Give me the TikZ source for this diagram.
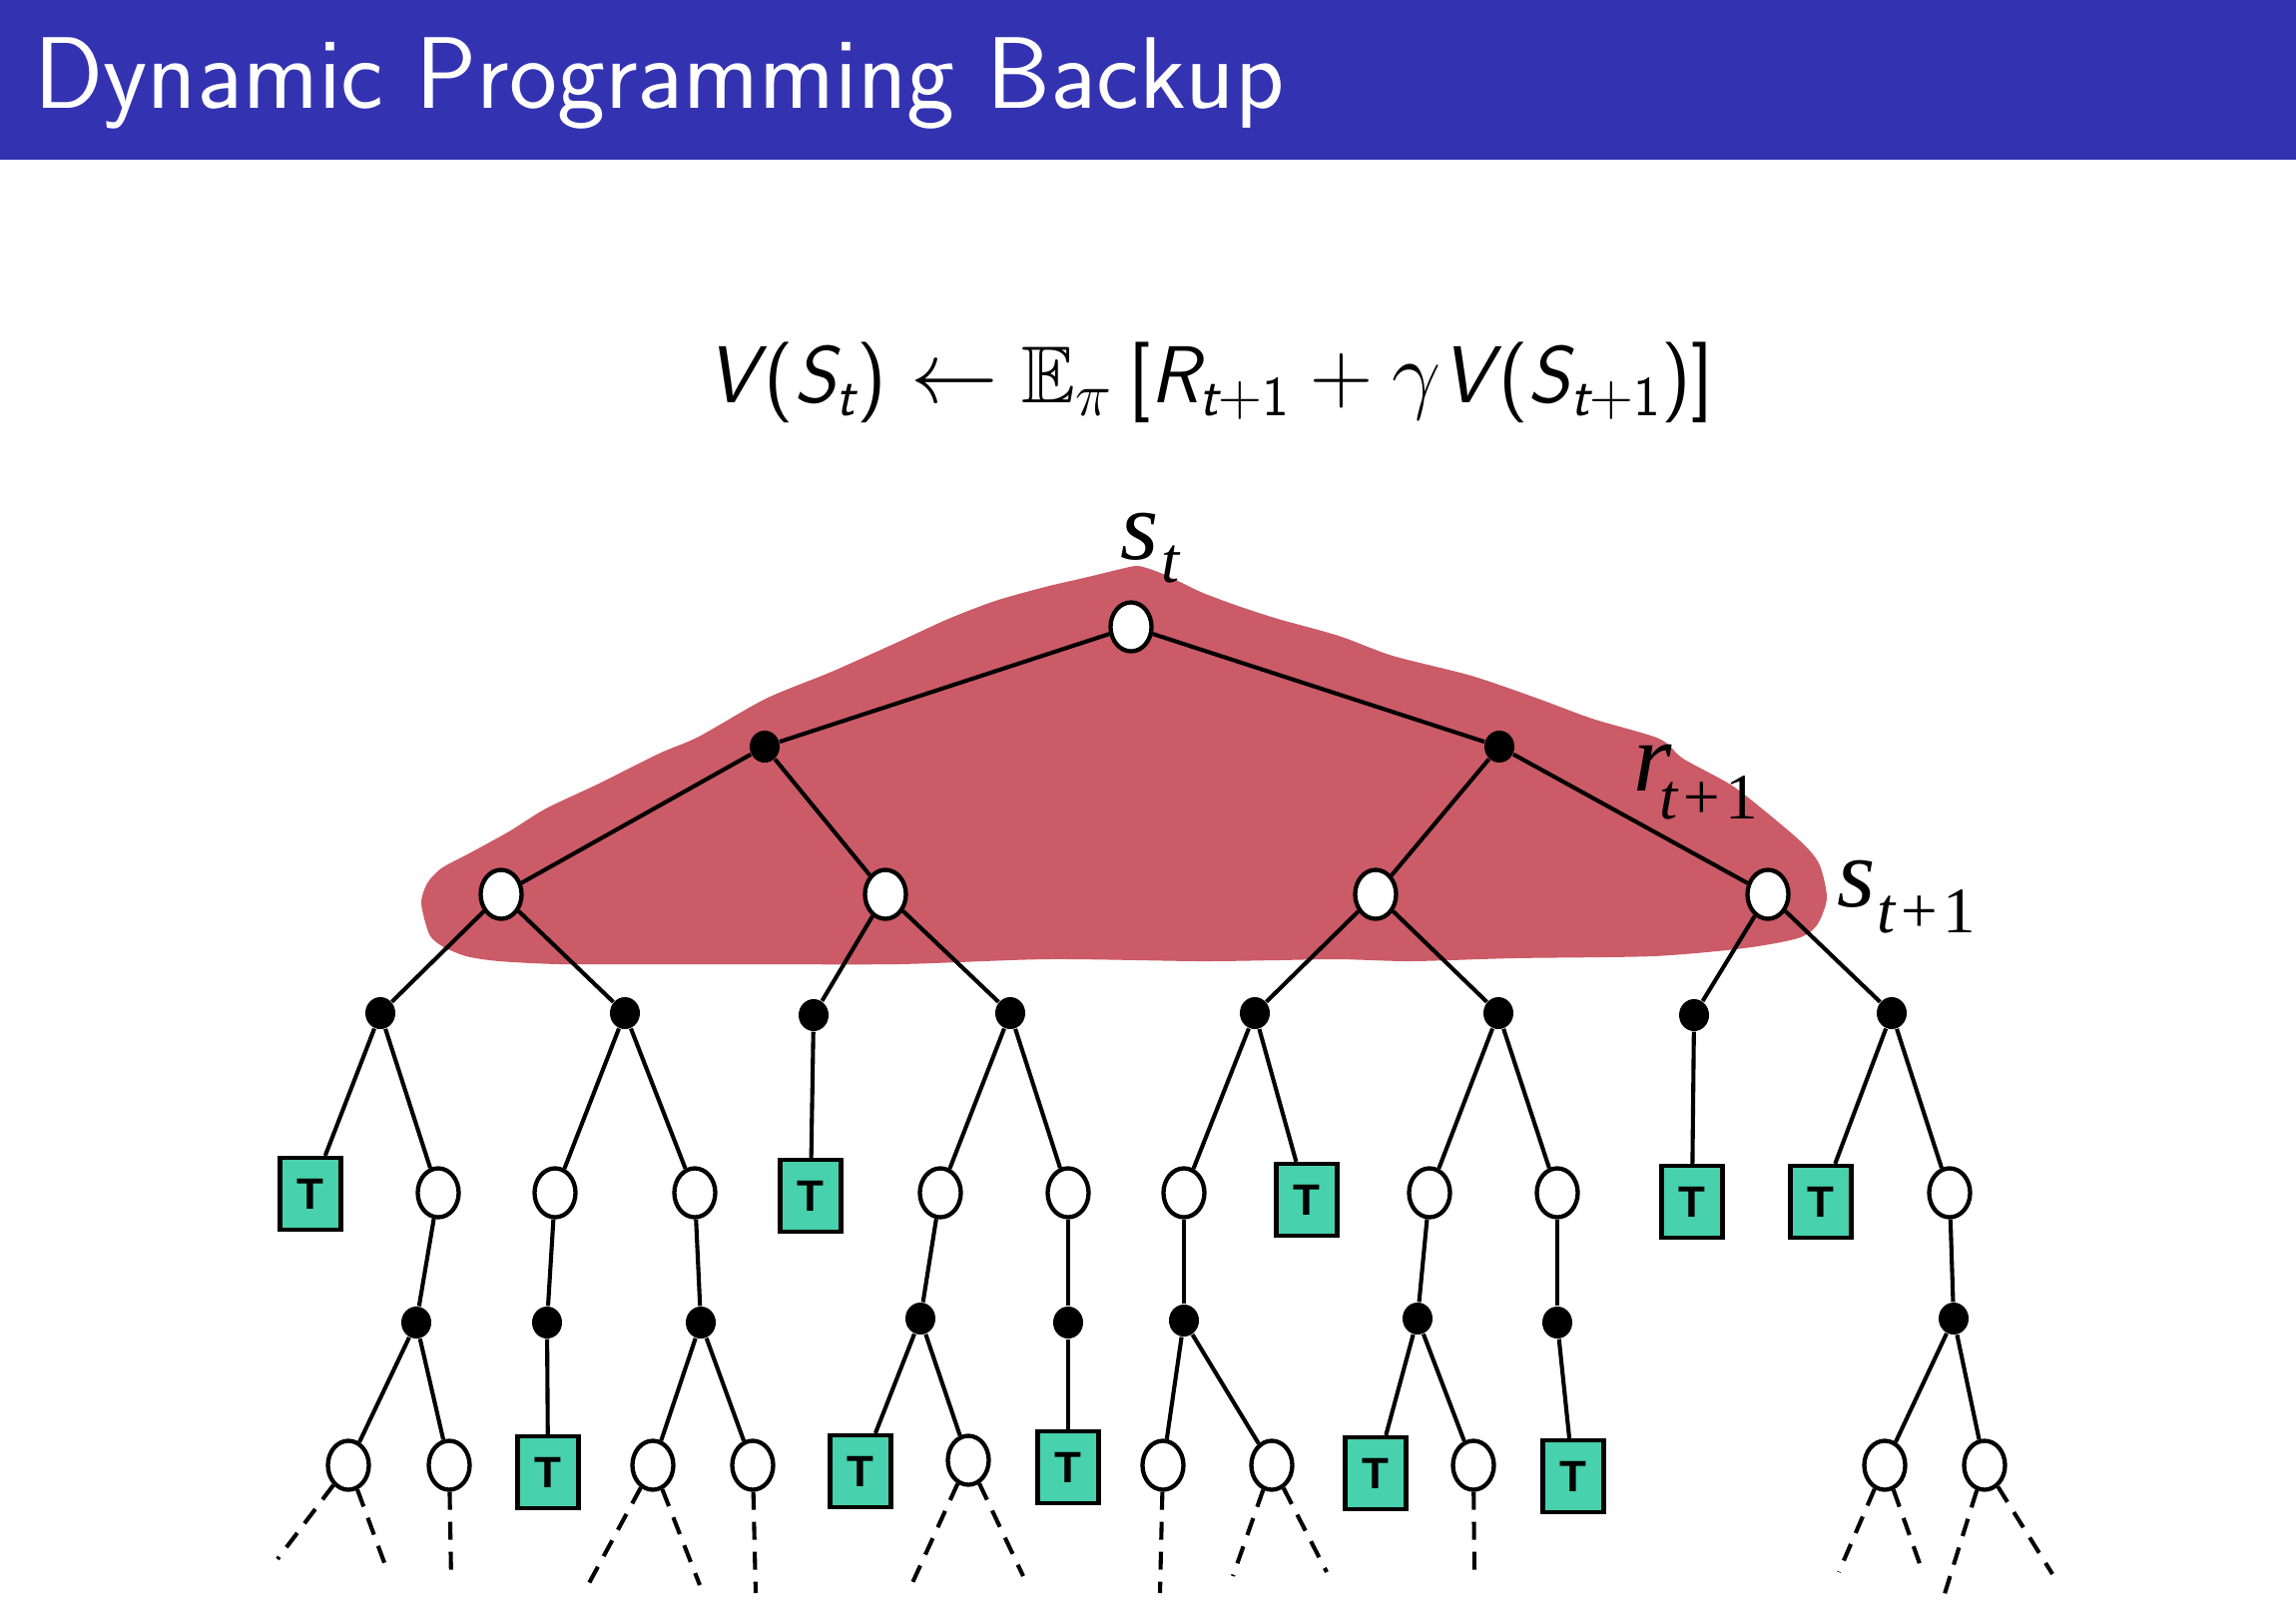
\documentclass[tikz,border=0pt]{standalone}
\usepackage{amsmath,amssymb}
\usepackage{fontspec}
\usetikzlibrary{shapes.geometric}
\newfontfamily\figserif{Liberation Serif}
\newfontfamily\figsans{Liberation Sans}
\newcommand{\sfit}[1]{\text{\sffamily\itshape #1}}
\newcommand{\sfup}[1]{\text{\sffamily\upshape #1}}
\definecolor{barblue}{rgb}{0.2,0.2,0.7}
\definecolor{blobred}{RGB}{203,91,103}
\definecolor{termgreen}{RGB}{71,209,173}
\begin{document}
\begin{tikzpicture}[x=0.01cm,y=-0.01cm,
  st/.style={ellipse,draw,fill=white,line width=0.043cm,minimum width=0.41cm,minimum height=0.49cm,inner sep=0pt},
  act/.style={ellipse,fill=black,minimum width=0.30cm,minimum height=0.32cm,inner sep=0pt},
  term/.style={rectangle,draw,fill=termgreen,line width=0.042cm,minimum width=0.61cm,minimum height=0.72cm,inner sep=0pt,font=\figsans\bfseries\fontsize{12.5}{12.5}\selectfont},
  edge/.style={line width=0.041cm},
  cont/.style={edge,dash pattern=on 0.18cm off 0.12cm},
  lbl/.style={inner sep=0pt,font=\figserif\itshape\fontsize{28}{28}\selectfont},
  sub/.style={inner sep=0pt,font=\figserif\fontsize{18.5}{18.5}\selectfont}]
\useasboundingbox (0,0) rectangle (2300,1606);

% title bar
\fill[barblue] (0,0) rectangle (2300,160);
\node[anchor=base west,inner sep=0pt,text=white,font=\sffamily\fontsize{29}{29}\selectfont] (title) at (34,108) {Dynamic Programming Backup};

% backup equation
\node[anchor=base,inner sep=0pt,font=\fontsize{23}{23}\selectfont] (eq) at (1212,403)
  {$\sfit{V}\kern2pt\sfup{(}\sfit{S}_{\sfit{t}}\sfup{)} \leftarrow \mathbb{E}_{\pi}\,\sfup{[}\sfit{R}_{\sfit{t}+\sfup{1}} + \gamma\sfit{V}\kern2pt\sfup{(}\sfit{S}_{\sfit{t}+\sfup{1}}\sfup{)}\sfup{]}$};

% highlighted one-step region
\fill[blobred] plot[smooth cycle,tension=0.45] coordinates {
  (422,905) (428,885) (442,870) (470,855) (510,833) (547,810) (600,785) (660,755)
  (700,738) (767,700) (833,673) (900,643) (950,620) (997,602) (1047,588) (1090,578)
  (1123,570) (1140,567) (1160,573) (1182,583) (1205,594) (1240,607) (1280,620)
  (1341,637) (1395,657) (1474,677) (1541,700) (1595,720) (1662,740) (1686,760)
  (1735,787) (1777,820) (1808,847) (1823,867) (1830,900) (1820,927) (1801,940)
  (1747,950) (1656,958) (1517,960) (1414,963) (1341,961) (1280,962) (1200,963)
  (1050,961) (900,966) (750,966) (650,966) (560,966) (500,963) (467,958) (443,948) (430,936)};

% level 0 and 1
\node[st] (s0) at (1133,628) {};
\node[act] (a1) at (766,748) {};
\node[act] (a2) at (1502,748) {};
% level 2
\node[st] (s1) at (502,896) {};
\node[st] (s2) at (887,896) {};
\node[st] (s3) at (1378,896) {};
\node[st] (s4) at (1771,896) {};
% level 3
\node[act] (b1) at (381,1015) {};
\node[act] (b2) at (626,1015) {};
\node[act] (b3) at (815,1017) {};
\node[act] (b4) at (1012,1015) {};
\node[act] (b5) at (1257,1015) {};
\node[act] (b6) at (1501,1015) {};
\node[act] (b7) at (1697,1017) {};
\node[act] (b8) at (1895,1015) {};
% level 4
\node[term] (t1) at (311,1196) {T};
\node[st] (c1) at (439,1195) {};
\node[st] (c2) at (556,1195) {};
\node[st] (c3) at (696,1195) {};
\node[term] (t2) at (812,1198) {T};
\node[st] (c4) at (942,1195) {};
\node[st] (c5) at (1070,1195) {};
\node[st] (c6) at (1186,1195) {};
\node[term] (t3) at (1309,1202) {T};
\node[st] (c7) at (1432,1195) {};
\node[st] (c8) at (1560,1195) {};
\node[term] (t4) at (1695,1204) {T};
\node[term] (t5) at (1824,1204) {T};
\node[st] (c9) at (1953,1195) {};
% level 5
\node[act] (d1) at (417,1325) {};
\node[act] (d2) at (548,1325) {};
\node[act] (d3) at (702,1325) {};
\node[act] (d4) at (922,1321) {};
\node[act] (d5) at (1070,1325) {};
\node[act] (d6) at (1186,1323) {};
\node[act] (d7) at (1420,1321) {};
\node[act] (d8) at (1560,1325) {};
\node[act] (d9) at (1957,1321) {};
% level 6
\node[st] (e1) at (349,1468) {};
\node[st] (e2) at (450,1468) {};
\node[term] (u1) at (549,1475) {T};
\node[st] (e3) at (654,1468) {};
\node[st] (e4) at (754,1468) {};
\node[term] (u2) at (862,1474) {T};
\node[st] (e5) at (970,1463) {};
\node[term] (u3) at (1070,1470) {T};
\node[st] (e6) at (1165,1468) {};
\node[st] (e7) at (1274,1468) {};
\node[term] (u4) at (1378,1476) {T};
\node[st] (e8) at (1476,1468) {};
\node[term] (u5) at (1576,1479) {T};
\node[st] (e9) at (1888,1468) {};
\node[st] (e10) at (1988,1468) {};

% loose ends of the continuing tree
\coordinate (x1) at (278,1562);  \coordinate (x2) at (387,1571);
\coordinate (x3) at (452,1583);
\coordinate (x4) at (589,1588);  \coordinate (x5) at (701,1588);
\coordinate (x6) at (757,1596);
\coordinate (x7) at (913,1588);  \coordinate (x8) at (1025,1579);
\coordinate (x9) at (1162,1596);
\coordinate (x10) at (1235,1579); \coordinate (x11) at (1329,1575);
\coordinate (x12) at (1477,1579);
\coordinate (x13) at (1842,1575); \coordinate (x14) at (1926,1575);
\coordinate (x15) at (1947,1600); \coordinate (x16) at (2056,1577);

% tree edges
\draw[edge] (s0) -- (a1); \draw[edge] (s0) -- (a2);
\draw[edge] (a1) -- (s1); \draw[edge] (a1) -- (s2);
\draw[edge] (a2) -- (s3); \draw[edge] (a2) -- (s4);
\draw[edge] (s1) -- (b1); \draw[edge] (s1) -- (b2);
\draw[edge] (s2) -- (b3); \draw[edge] (s2) -- (b4);
\draw[edge] (s3) -- (b5); \draw[edge] (s3) -- (b6);
\draw[edge] (s4) -- (b7); \draw[edge] (s4) -- (b8);
\draw[edge] (b1) -- (t1); \draw[edge] (b1) -- (c1);
\draw[edge] (b2) -- (c2); \draw[edge] (b2) -- (c3);
\draw[edge] (b3) -- (t2);
\draw[edge] (b4) -- (c4); \draw[edge] (b4) -- (c5);
\draw[edge] (b5) -- (c6); \draw[edge] (b5) -- (t3);
\draw[edge] (b6) -- (c7); \draw[edge] (b6) -- (c8);
\draw[edge] (b7) -- (t4);
\draw[edge] (b8) -- (t5); \draw[edge] (b8) -- (c9);
\draw[edge] (c1) -- (d1); \draw[edge] (c2) -- (d2); \draw[edge] (c3) -- (d3);
\draw[edge] (c4) -- (d4); \draw[edge] (c5) -- (d5); \draw[edge] (c6) -- (d6);
\draw[edge] (c7) -- (d7); \draw[edge] (c8) -- (d8); \draw[edge] (c9) -- (d9);
\draw[edge] (d1) -- (e1); \draw[edge] (d1) -- (e2);
\draw[edge] (d2) -- (u1);
\draw[edge] (d3) -- (e3); \draw[edge] (d3) -- (e4);
\draw[edge] (d4) -- (u2); \draw[edge] (d4) -- (e5);
\draw[edge] (d5) -- (u3);
\draw[edge] (d6) -- (e6); \draw[edge] (d6) -- (e7);
\draw[edge] (d7) -- (u4); \draw[edge] (d7) -- (e8);
\draw[edge] (d8) -- (u5);
\draw[edge] (d9) -- (e9); \draw[edge] (d9) -- (e10);
% dashed continuations
\draw[cont] (e1) -- (x1); \draw[cont] (e1) -- (x2);
\draw[cont] (e2) -- (x3);
\draw[cont] (e3) -- (x4); \draw[cont] (e3) -- (x5);
\draw[cont] (e4) -- (x6);
\draw[cont] (e5) -- (x7); \draw[cont] (e5) -- (x8);
\draw[cont] (e6) -- (x9);
\draw[cont] (e7) -- (x10); \draw[cont] (e7) -- (x11);
\draw[cont] (e8) -- (x12);
\draw[cont] (e9) -- (x13); \draw[cont] (e9) -- (x14);
\draw[cont] (e10) -- (x15); \draw[cont] (e10) -- (x16);

% state and reward labels
\node[lbl,anchor=base west] (ls0) at (1122,560) {s};
\node[sub,anchor=base west] (ls0t) at (1163,583) {\itshape t};
\node[lbl,anchor=base west] (lr) at (1636,792) {r};
\node[sub,anchor=base west] (lrt) at (1662,820) {{\itshape t}\kern1.5pt+\kern1.5pt1};
\node[lbl,anchor=base west] (ls1) at (1840,908) {s};
\node[sub,anchor=base west] (ls1t) at (1880,934) {{\itshape t}\kern1.5pt+\kern1.5pt1};
\end{tikzpicture}
\end{document}
